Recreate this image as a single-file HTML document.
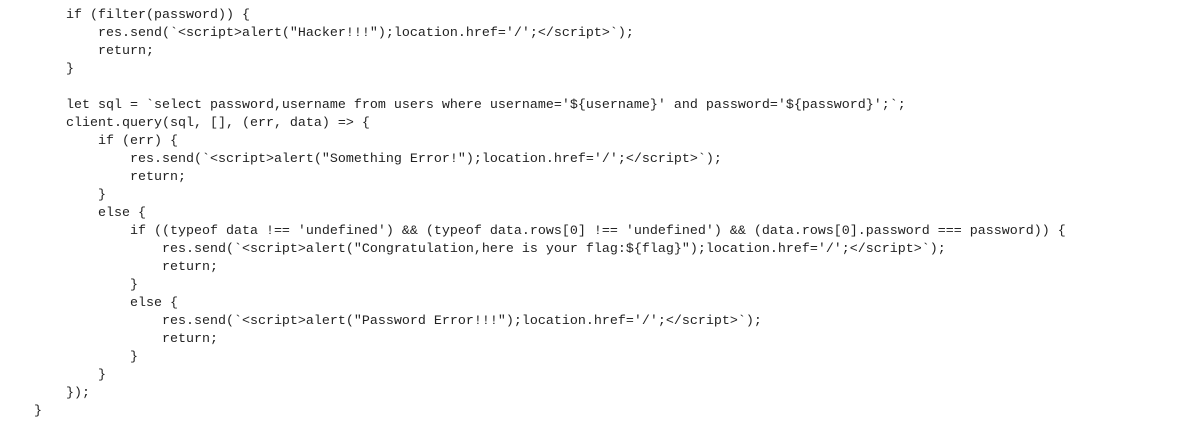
<!DOCTYPE html>
<html><head><meta charset="utf-8"><style>
html,body{margin:0;padding:0;background:#fff;width:1203px;height:405px;overflow:hidden}
pre{position:absolute;left:2px;top:7px;margin:0;font-family:"Liberation Mono",monospace;font-size:13.33px;line-height:18px;color:#222;white-space:pre}
</style></head><body>
<pre>        if (filter(password)) {
            res.send(`&lt;script&gt;alert("Hacker!!!");location.href='/';&lt;/script&gt;`);
            return;
        }

        let sql = `select password,username from users where username='${username}' and password='${password}';`;
        client.query(sql, [], (err, data) =&gt; {
            if (err) {
                res.send(`&lt;script&gt;alert("Something Error!");location.href='/';&lt;/script&gt;`);
                return;
            }
            else {
                if ((typeof data !== 'undefined') &amp;&amp; (typeof data.rows[0] !== 'undefined') &amp;&amp; (data.rows[0].password === password)) {
                    res.send(`&lt;script&gt;alert("Congratulation,here is your flag:${flag}");location.href='/';&lt;/script&gt;`);
                    return;
                }
                else {
                    res.send(`&lt;script&gt;alert("Password Error!!!");location.href='/';&lt;/script&gt;`);
                    return;
                }
            }
        });
    }</pre>
</body></html>
